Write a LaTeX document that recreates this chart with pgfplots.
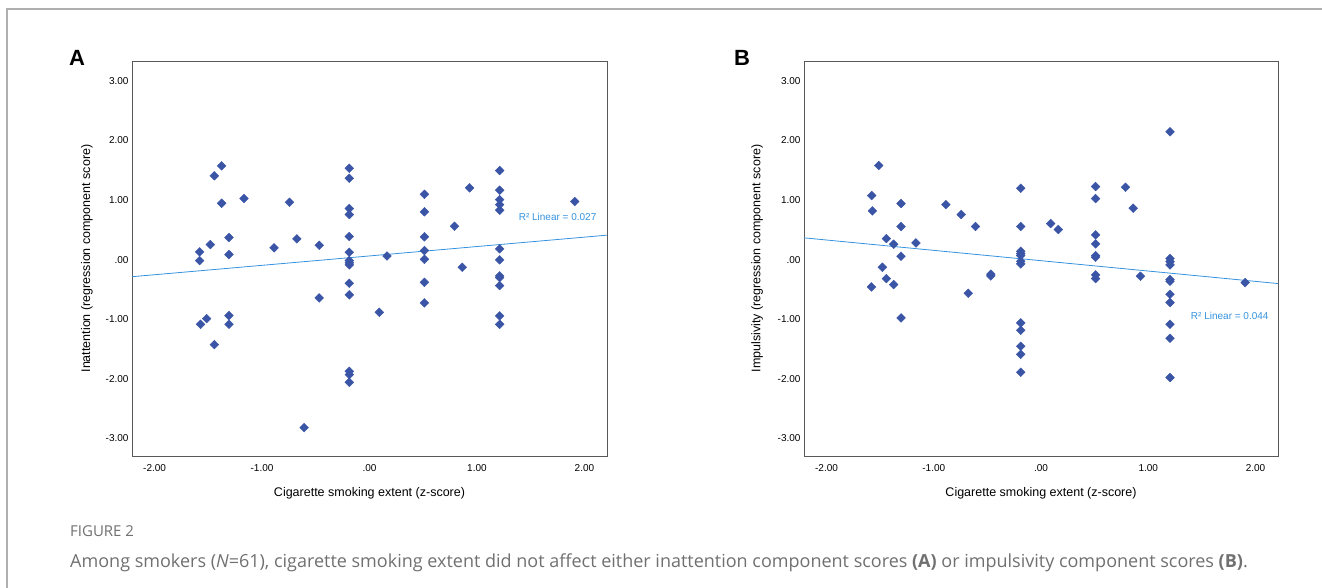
\documentclass[border=0pt]{standalone}
\usepackage{fontspec}
\setmainfont{Liberation Sans}
\newfontfamily\capfont{Open Sans}
\usepackage{pgfplots}
\usepackage{pgfplotstable}
\pgfplotsset{compat=1.18}

\definecolor{dotblue}{RGB}{58,84,166}
\definecolor{fitblue}{RGB}{52,146,222}
\definecolor{capgray}{RGB}{112,112,112}
\definecolor{framegray}{RGB}{175,175,175}

% panel A: smoking extent vs inattention
\pgfplotstableread{
x y
-1.376 1.575
-1.444 1.407
-1.376 0.946
-1.168 1.025
-0.744 0.963
-0.188 1.534
-0.188 1.366
-0.188 0.857
-0.188 0.756
-0.188 0.387
-0.188 0.123
-1.308 0.370
-1.481 0.252
-1.581 0.129
-1.308 0.084
-0.888 0.197
-0.676 0.348
-0.468 0.240
-1.581 -0.017
-0.188 -0.017
-0.188 -0.055
-0.188 -0.089
-0.188 -0.398
-0.188 -0.593
-0.468 -0.644
-1.308 -0.941
-1.308 -1.087
-1.516 -0.992
-1.572 -1.087
-1.444 -1.429
-0.188 -1.877
-0.188 -1.933
-0.188 -2.062
-0.608 -2.824
1.211 1.496
0.931 1.205
1.211 1.165
1.211 1.008
1.211 0.924
1.211 0.829
1.910 0.975
0.511 1.097
0.511 0.802
0.791 0.560
0.511 0.382
0.511 0.151
0.163 0.059
1.211 0.180
0.511 0.005
0.863 -0.129
1.211 -0.005
1.211 -0.274
1.211 -0.303
1.211 -0.437
0.511 -0.382
0.511 -0.728
0.091 -0.886
1.211 -0.946
1.211 -1.087
}\inattn

% panel B: smoking extent vs impulsivity
\pgfplotstableread{
x y
-1.513 1.580
-1.579 1.076
-1.572 0.818
-1.305 0.941
-0.887 0.924
-0.744 0.756
-0.611 0.555
-1.305 0.555
-0.189 1.198
-0.189 0.555
-0.189 0.140
-0.189 0.100
-1.442 0.353
-1.374 0.258
-1.166 0.280
-1.305 0.056
-1.479 -0.129
-1.442 -0.319
-1.374 -0.420
-1.581 -0.459
-1.305 -0.980
-0.679 -0.566
-0.468 -0.245
-0.468 -0.275
-0.189 0.067
-0.189 -0.029
-0.189 -0.072
-0.189 -1.064
-0.189 -1.188
-0.189 -1.457
-0.189 -1.592
-0.189 -1.894
1.203 2.146
0.509 1.227
0.788 1.215
0.509 1.025
0.859 0.863
0.090 0.605
0.161 0.504
0.509 0.415
0.509 0.264
0.509 0.067
0.509 0.040
0.509 -0.257
0.509 -0.319
0.927 -0.280
1.203 0.017
1.203 -0.034
1.203 -0.089
1.203 -0.336
1.203 -0.364
1.203 -0.583
1.203 -0.723
1.203 -1.087
1.203 -1.322
1.203 -1.983
1.904 -0.387
}\impuls

\pgfplotsset{
  spss/.style={
    scale only axis, width=475pt, height=395pt,
    anchor=south west,
    xmin=-2.21, xmax=2.21, ymin=-3.30, ymax=3.336,
    xtick={-2,-1,0,1,2}, xticklabels={-2.00,-1.00,.00,1.00,2.00},
    ytick={-3,-2,-1,0,1,2,3},
    yticklabels={-3.00,-2.00,-1.00,.00,1.00,2.00,3.00},
    major tick length=0pt,
    axis line style={draw=black!65, line width=0.9pt},
    tick label style={font=\fontsize{10}{11}\selectfont},
    xticklabel style={yshift=-4.5pt},
    label style={font=\fontsize{12.5}{14}\selectfont},
    x label style={at={(axis description cs:0.5,-0.094)}, anchor=center},
    xlabel={Cigarette smoking extent (z-score)},
    clip=false,
  },
  dots/.style={only marks, mark=square*, mark size=3.1pt,
    mark options={rotate=45, fill=dotblue, draw=dotblue}},
}

\begin{document}
\begin{tikzpicture}[x=1pt,y=1pt]
\useasboundingbox (0,0) rectangle (1322,588);
\draw[framegray, line width=1.5pt] (7,0) -- (7,579) -- (1322,579);

\begin{axis}[spss, at={(132pt,132pt)},
  ylabel={Inattention (regression component score)},
  y label style={at={(axis description cs:-0.095,0.5)}, anchor=center}]
\addplot[dots] table[x=x,y=y] {\inattn};
\addplot[fitblue, line width=0.8pt, no marks] coordinates {(-2.21,-0.288) (2.21,0.410)};
\node[fitblue, font=\fontsize{10}{12}\selectfont] at (axis cs:1.75,0.72) {R² Linear = 0.027};
\end{axis}

\begin{axis}[spss, at={(804pt,132pt)}, width=474pt,
  ylabel={Impulsivity (regression component score)},
  y label style={at={(axis description cs:-0.099,0.5)}, anchor=center}]
\addplot[dots] table[x=x,y=y] {\impuls};
\addplot[fitblue, line width=0.8pt, no marks] coordinates {(-2.21,0.365) (2.21,-0.403)};
\node[fitblue, font=\fontsize{10}{12}\selectfont] at (axis cs:1.76,-0.94) {R² Linear = 0.044};
\end{axis}

\node[font=\bfseries\fontsize{22}{24}\selectfont] at (77,530) {A};
\node[font=\bfseries\fontsize{22}{24}\selectfont] at (742,530) {B};

\node[anchor=west, inner sep=0pt, text=capgray, font=\capfont\fontsize{15}{17}\selectfont] at (70,57) {FIGURE 2};
\node[anchor=west, inner sep=0pt, text=capgray, font=\capfont\fontsize{18}{21}\selectfont] at (70,25)
  {Among smokers ({\itshape N}=61), cigarette smoking extent did not affect either inattention component scores \textbf{(A)} or impulsivity component scores \textbf{(B)}.};
\end{tikzpicture}
\end{document}
